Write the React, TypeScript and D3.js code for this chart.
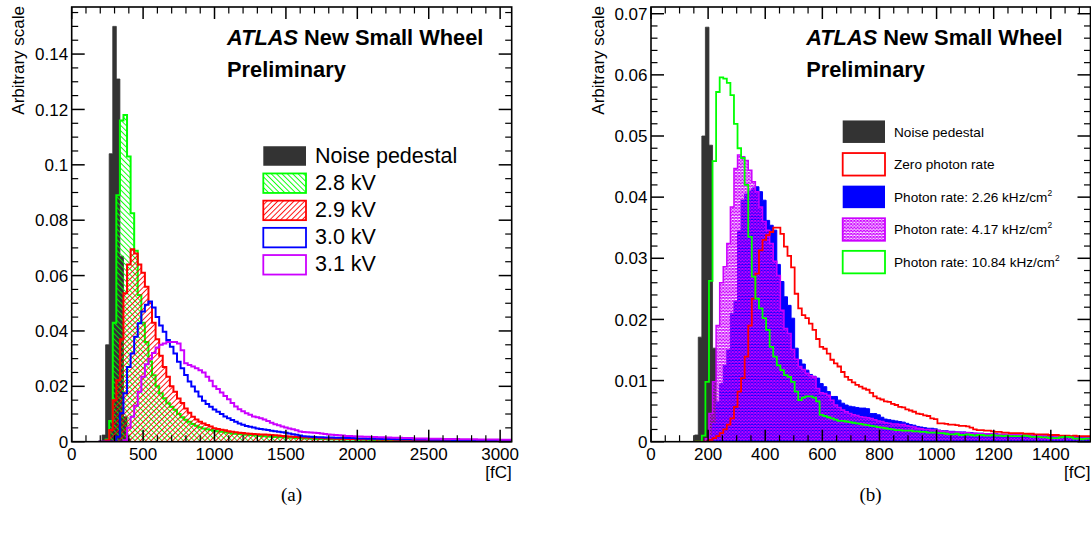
import React from 'react';
import * as d3 from 'd3';

// ---------- panel (a): 25 fC bins, first bin centred on 200 fC ----------
const binA = 25;
const firstCentreA = 200;

const noiseA = [0, 0.0024, 0.035, 0.104, 0.15, 0.131, 0.067, 0.009, 0.001];

const kv28 = [
  0, 0, 0.0008, 0.0075, 0.043, 0.089, 0.116, 0.118, 0.103, 0.0825,
  0.069, 0.053, 0.043, 0.036, 0.029, 0.024, 0.02, 0.0175, 0.0157, 0.0139,
  0.0126, 0.0115, 0.01, 0.0088, 0.0079, 0.0072, 0.0064, 0.0058, 0.0052, 0.0048,
  0.0045, 0.0042, 0.004, 0.0038, 0.0036, 0.0034, 0.0032, 0.003, 0.0029, 0.0028,
  0.0026, 0.0025, 0.0024, 0.0023, 0.0022, 0.0021, 0.002, 0.0019, 0.0018, 0.0017,
  0.0016, 0.0016, 0.0015, 0.0014, 0.0014, 0.0013, 0.0013, 0.0012, 0.0012, 0.0011,
  0.0011, 0.001, 0.001, 0.001, 0.0009, 0.0009, 0.0009, 0.0009, 0.0008, 0.0008,
  0.0008, 0.0008, 0.0007, 0.0007, 0.0007, 0.0007, 0.0006, 0.0006, 0.0006, 0.0006,
  0.0006, 0.0005, 0.0005, 0.0005, 0.0005, 0.0005, 0.0005, 0.0004, 0.0004, 0.0004,
  0.0004, 0.0004, 0.0004, 0.0004, 0.0004, 0.0003, 0.0003, 0.0003, 0.0003, 0.0003,
  0.0003, 0.0003, 0.0003, 0.0003, 0.0003, 0.0003, 0.0003, 0.0003, 0.0003, 0.0003,
  0.0003, 0.0003, 0.0002, 0.0002, 0.0002, 0.0002,
];

const kv29 = [
  0, 0, 0.0005, 0.0042, 0.015, 0.0222, 0.037, 0.0536, 0.064, 0.0695,
  0.068, 0.064, 0.061, 0.056, 0.05, 0.043, 0.037, 0.031, 0.027, 0.0235,
  0.02, 0.018, 0.0156, 0.014, 0.012, 0.0105, 0.009, 0.008, 0.0072, 0.0066,
  0.006, 0.0055, 0.0049, 0.0046, 0.0043, 0.0041, 0.0038, 0.0036, 0.0034, 0.0032,
  0.0031, 0.003, 0.0029, 0.0028, 0.0027, 0.0026, 0.0026, 0.0025, 0.0024, 0.0023,
  0.0022, 0.0021, 0.002, 0.0019, 0.0018, 0.0017, 0.0016, 0.0016, 0.0015, 0.0015,
  0.0014, 0.0014, 0.0013, 0.0013, 0.0012, 0.0012, 0.0012, 0.0011, 0.0011, 0.0011,
  0.001, 0.001, 0.001, 0.001, 0.0009, 0.0009, 0.0009, 0.0009, 0.0008, 0.0008,
  0.0008, 0.0008, 0.0008, 0.0007, 0.0007, 0.0007, 0.0007, 0.0007, 0.0006, 0.0006,
  0.0006, 0.0006, 0.0006, 0.0006, 0.0005, 0.0005, 0.0005, 0.0005, 0.0005, 0.0005,
  0.0005, 0.0005, 0.0004, 0.0004, 0.0004, 0.0004, 0.0004, 0.0004, 0.0004, 0.0004,
  0.0004, 0.0004, 0.0004, 0.0003, 0.0003, 0.0003,
];

const kv30 = [
  0, 0, 0, 0, 0, 0.0018, 0.0103, 0.0175, 0.027, 0.0319,
  0.0379, 0.0428, 0.047, 0.0495, 0.0506, 0.0485, 0.045, 0.042, 0.0397, 0.0367,
  0.0343, 0.0319, 0.0289, 0.0265, 0.0241, 0.0217, 0.0199, 0.0181, 0.0163, 0.0148,
  0.0136, 0.0126, 0.0116, 0.0108, 0.01, 0.0091, 0.0085, 0.0078, 0.0072, 0.0066,
  0.0061, 0.0057, 0.0054, 0.0051, 0.0048, 0.0046, 0.0044, 0.0042, 0.004, 0.0038,
  0.0036, 0.0034, 0.0032, 0.003, 0.0027, 0.0025, 0.0022, 0.002, 0.0019, 0.0018,
  0.0017, 0.0016, 0.0016, 0.0015, 0.0015, 0.0015, 0.0014, 0.0014, 0.0014, 0.0013,
  0.0013, 0.0013, 0.0012, 0.0012, 0.0012, 0.0011, 0.0011, 0.0011, 0.0011, 0.001,
  0.001, 0.001, 0.001, 0.0009, 0.0009, 0.0009, 0.0009, 0.0009, 0.0008, 0.0008,
  0.0008, 0.0008, 0.0008, 0.0007, 0.0007, 0.0007, 0.0007, 0.0007, 0.0007, 0.0006,
  0.0006, 0.0006, 0.0006, 0.0006, 0.0006, 0.0006, 0.0005, 0.0005, 0.0005, 0.0005,
  0.0005, 0.0005, 0.0005, 0.0005, 0.0004, 0.0004,
];

const kv31 = [
  0, 0, 0, 0, 0, 0, 0, 0.0005, 0.005, 0.009,
  0.013, 0.018, 0.0235, 0.028, 0.03, 0.032, 0.034, 0.035, 0.0355, 0.036,
  0.036, 0.036, 0.0355, 0.033, 0.0283, 0.0277, 0.0272, 0.0265, 0.0258, 0.025,
  0.0235, 0.022, 0.02, 0.019, 0.0178, 0.0165, 0.0153, 0.014, 0.0127, 0.0117,
  0.011, 0.0103, 0.0097, 0.0091, 0.0088, 0.0085, 0.008, 0.0075, 0.0068, 0.0063,
  0.0059, 0.0055, 0.0051, 0.0048, 0.0045, 0.0041, 0.0037, 0.0035, 0.0034, 0.0033,
  0.0032, 0.0031, 0.003, 0.0028, 0.0026, 0.0025, 0.0024, 0.0023, 0.0022, 0.0021,
  0.0021, 0.002, 0.0019, 0.0019, 0.0018, 0.0018, 0.0017, 0.0017, 0.0016, 0.0016,
  0.0015, 0.0015, 0.0014, 0.0014, 0.0014, 0.0013, 0.0013, 0.0013, 0.0012, 0.0012,
  0.0012, 0.0012, 0.0011, 0.0011, 0.0011, 0.0011, 0.001, 0.001, 0.001, 0.001,
  0.001, 0.0009, 0.0009, 0.0009, 0.0009, 0.0009, 0.0008, 0.0008, 0.0008, 0.0008,
  0.0008, 0.0008, 0.0007, 0.0007, 0.0007, 0.0007,
];

const xTicksA = [0, 500, 1000, 1500, 2000, 2500, 3000];
const yTicksA = [0, 0.02, 0.04, 0.06, 0.08, 0.1, 0.12, 0.14];
const yLabelsA = ['0', '0.02', '0.04', '0.06', '0.08', '0.1', '0.12', '0.14'];
const legendLabelsA = ['Noise pedestal', '2.8 kV', '2.9 kV', '3.0 kV', '3.1 kV'];

// ---------- panel (b): 12.5 fC bins, first low edge at 153 fC ----------
const binB = 12.5;
const firstEdgeB = 153;

const noiseB = [0.0011, 0.0171, 0.05, 0.0678, 0.0485, 0.0153, 0.001];

const zeroRate = [
  0, 0, 0, 0, 0.0003, 0.0006, 0.0009, 0.0014, 0.002, 0.0028,
  0.0038, 0.0057, 0.0082, 0.0104, 0.0139, 0.019, 0.0234, 0.0275, 0.0313, 0.033,
  0.0338, 0.0343, 0.035, 0.035, 0.034, 0.0319, 0.0304, 0.0285, 0.0242, 0.0218,
  0.0207, 0.0202, 0.0193, 0.0183, 0.0168, 0.0155, 0.0152, 0.0144, 0.0134, 0.0128,
  0.0123, 0.0114, 0.0106, 0.0101, 0.0097, 0.0093, 0.009, 0.0087, 0.0085, 0.008,
  0.0074, 0.0071, 0.0069, 0.0066, 0.0065, 0.0062, 0.006, 0.0057, 0.0056, 0.0053,
  0.0051, 0.0049, 0.0046, 0.0045, 0.0043, 0.0042, 0.0038, 0.0037, 0.003, 0.003,
  0.0029, 0.0028, 0.0028, 0.0027, 0.0026, 0.0026, 0.0025, 0.0023, 0.002, 0.0019,
  0.0019, 0.0018, 0.0018, 0.0017, 0.0016, 0.0016, 0.0015, 0.0015, 0.0014, 0.0014,
  0.0014, 0.0014, 0.0013, 0.0013, 0.0013, 0.0012, 0.0012, 0.0012, 0.0012, 0.0011,
  0.0011, 0.0011, 0.001, 0.001, 0.001, 0.0009, 0.001, 0.0009, 0.0009, 0.0009, 0.0009,
];

const rate226 = [
  0, 0, 0, 0, 0.001, 0.003, 0.0065, 0.0095, 0.0125, 0.015,
  0.021, 0.023, 0.0345, 0.0395, 0.0405, 0.041, 0.0415, 0.0417, 0.0409, 0.0395,
  0.0362, 0.0354, 0.0346, 0.029, 0.0262, 0.0237, 0.0223, 0.0202, 0.0153, 0.0134,
  0.0127, 0.0117, 0.011, 0.0107, 0.0104, 0.0095, 0.009, 0.0082, 0.0074, 0.0074,
  0.0068, 0.0063, 0.006, 0.0058, 0.0057, 0.0056, 0.0055, 0.0055, 0.0054, 0.0046,
  0.0046, 0.0044, 0.004, 0.0037, 0.0036, 0.0035, 0.0034, 0.0033, 0.0032, 0.003,
  0.0028, 0.0027, 0.0025, 0.0024, 0.0023, 0.0022, 0.0022, 0.0021, 0.0019, 0.0018,
  0.0018, 0.0017, 0.0017, 0.0016, 0.0016, 0.0016, 0.0015, 0.0015, 0.0014, 0.0014,
  0.0014, 0.0013, 0.0013, 0.0013, 0.0013, 0.0012, 0.0012, 0.0012, 0.0012, 0.0012,
  0.0011, 0.0011, 0.0011, 0.0011, 0.001, 0.001, 0.001, 0.001, 0.001, 0.001,
  0.0009, 0.0009, 0.0009, 0.0009, 0.0009, 0.0009, 0.0008, 0.0008, 0.0008, 0.0008, 0.0008,
];

const rate417 = [
  0, 0, 0, 0.0005, 0.0046, 0.0098, 0.019, 0.026, 0.0286, 0.0324,
  0.0384, 0.0447, 0.0469, 0.0466, 0.046, 0.0444, 0.0425, 0.0409, 0.0384, 0.036,
  0.0346, 0.0324, 0.0295, 0.0272, 0.0215, 0.0185, 0.0177, 0.0151, 0.0135, 0.0123,
  0.0118, 0.0112, 0.0108, 0.0106, 0.0087, 0.008, 0.0079, 0.0076, 0.0068, 0.006,
  0.0056, 0.0052, 0.0049, 0.0046, 0.0044, 0.0043, 0.0041, 0.004, 0.0039, 0.0038,
  0.0036, 0.0034, 0.0033, 0.0031, 0.003, 0.0029, 0.0029, 0.0028, 0.0028, 0.0026,
  0.0025, 0.0024, 0.0022, 0.0021, 0.002, 0.002, 0.0019, 0.0019, 0.0018, 0.0017,
  0.0017, 0.0016, 0.0016, 0.0016, 0.0015, 0.0015, 0.0015, 0.0014, 0.0014, 0.0013,
  0.0013, 0.0013, 0.0013, 0.0013, 0.0012, 0.0012, 0.0012, 0.0012, 0.0012, 0.0012,
  0.0012, 0.0011, 0.0011, 0.0011, 0.0011, 0.0011, 0.001, 0.001, 0.001, 0.001,
  0.001, 0.0009, 0.0009, 0.0009, 0.0009, 0.0008, 0.0008, 0.0008, 0.0008, 0.0008, 0.0008,
];

const rate1084 = [
  0, 0, 0.001, 0.0098, 0.0263, 0.0459, 0.0572, 0.0596, 0.0594, 0.0587,
  0.0567, 0.052, 0.048, 0.0464, 0.042, 0.0335, 0.027, 0.0234, 0.0218, 0.0202,
  0.0183, 0.0155, 0.0139, 0.0125, 0.0117, 0.0109, 0.0106, 0.0098, 0.0082, 0.0068,
  0.0072, 0.0074, 0.0074, 0.0072, 0.0066, 0.0044, 0.0042, 0.004, 0.0038, 0.0036,
  0.0034, 0.0034, 0.0033, 0.0032, 0.0031, 0.003, 0.0029, 0.0028, 0.0027, 0.0026,
  0.0025, 0.0024, 0.0023, 0.0022, 0.0021, 0.002, 0.0019, 0.0019, 0.0018, 0.0018,
  0.0018, 0.0017, 0.0017, 0.0016, 0.0016, 0.0015, 0.0015, 0.0015, 0.0014, 0.0014,
  0.0013, 0.0012, 0.0012, 0.0013, 0.0011, 0.0011, 0.0012, 0.0011, 0.001, 0.0011,
  0.0011, 0.001, 0.001, 0.0011, 0.001, 0.001, 0.0009, 0.001, 0.0009, 0.0009,
  0.0009, 0.0009, 0.001, 0.0009, 0.0008, 0.0008, 0.0008, 0.0007, 0.0007, 0.0006,
  0.0006, 0.0006, 0.0007, 0.0008, 0.0008, 0.0007, 0.0005, 0.0005, 0.0004, 0.0005, 0.0005,
];

const xTicksB = [0, 200, 400, 600, 800, 1000, 1200, 1400];
const yTicksB = [0, 0.01, 0.02, 0.03, 0.04, 0.05, 0.06, 0.07];
const yLabelsB = ['0', '0.01', '0.02', '0.03', '0.04', '0.05', '0.06', '0.07'];
const legendLabelsB = ['Noise pedestal', 'Zero photon rate', 'Photon rate: 2.26 kHz/cm', 'Photon rate: 4.17 kHz/cm', 'Photon rate: 10.84 kHz/cm'];

const FONT = '"Liberation Sans", Arial, Helvetica, sans-serif';
const GREY = '#333333';
const GREEN = '#00ff00';
const RED = '#ff0000';
const BLUE = '#0000ff';
const VIOLET = '#cc00ff';

type Series = { values: number[]; lo: number; width: number; fill: string; stroke: string; sw: number };

function histPath(s: Series, x: d3.ScaleLinear<number, number>, y: d3.ScaleLinear<number, number>, close: boolean) {
  const pts: [number, number][] = [[s.lo, 0]];
  s.values.forEach((v, i) => pts.push([s.lo + i * s.width, v]));
  pts.push([s.lo + s.values.length * s.width, 0]);
  const line = d3.line<[number, number]>().x(d => x(d[0])).y(d => y(d[1])).curve(d3.curveStepAfter);
  return (line(pts) || '') + (close ? 'Z' : '');
}

type LegendItem = { label: string; fill: string; stroke: string; sup?: boolean };

type PanelProps = {
  id: string;
  frame: { left: number; right: number; top: number; bottom: number };
  xMax: number;
  yMax: number;
  xTicks: number[];
  xMinorStep: number;
  xMinorMax: number;
  yTicks: number[];
  yLabels: string[];
  yMinorStep: number;
  series: Series[];
  legend: LegendItem[];
  legendBox: { x: number; y0: number; dy: number; w: number; h: number; fontSize: number; textDx: number; baseDy: number };
  ylabelX: number;
  caption: string;
  captionX: number;
};

function Panel(p: PanelProps) {
  const { frame } = p;
  const x = d3.scaleLinear().domain([0, p.xMax]).range([frame.left, frame.right]);
  const y = d3.scaleLinear().domain([0, p.yMax]).range([frame.bottom, frame.top]);
  const xMinor = d3.range(0, p.xMinorMax + 1e-9, p.xMinorStep).filter(v => !p.xTicks.includes(v));
  const yMinor = d3.range(0, p.yMax, p.yMinorStep).filter(v => !p.yTicks.some(t => Math.abs(t - v) < 1e-9));
  const clipId = `clip-${p.id}`;
  const lb = p.legendBox;

  return (
    <g>
      <clipPath id={clipId}>
        <rect x={frame.left} y={frame.top} width={frame.right - frame.left} height={frame.bottom - frame.top} />
      </clipPath>
      <g clipPath={`url(#${clipId})`}>
        {p.series.map((s, i) => (
          <g key={i}>
            {s.fill !== 'none' && <path d={histPath(s, x, y, true)} fill={s.fill} stroke="none" />}
            {s.stroke !== 'none' && (
              <path d={histPath(s, x, y, false)} fill="none" stroke={s.stroke} strokeWidth={s.sw} strokeLinejoin="miter" />
            )}
          </g>
        ))}
      </g>

      {/* frame and ticks on all four sides */}
      <rect x={frame.left} y={frame.top} width={frame.right - frame.left} height={frame.bottom - frame.top}
        fill="none" stroke="#000" strokeWidth={1.6} />
      {p.xTicks.map(v => (
        <g key={`xt${v}`} stroke="#000" strokeWidth={1.5}>
          <line x1={x(v)} x2={x(v)} y1={frame.bottom} y2={frame.bottom - 12} />
          <line x1={x(v)} x2={x(v)} y1={frame.top} y2={frame.top + 12} />
        </g>
      ))}
      {xMinor.map(v => (
        <g key={`xm${v}`} stroke="#000" strokeWidth={1.2}>
          <line x1={x(v)} x2={x(v)} y1={frame.bottom} y2={frame.bottom - 6.5} />
          <line x1={x(v)} x2={x(v)} y1={frame.top} y2={frame.top + 6.5} />
        </g>
      ))}
      {p.yTicks.map(v => (
        <g key={`yt${v}`} stroke="#000" strokeWidth={1.5}>
          <line x1={frame.left} x2={frame.left + 13} y1={y(v)} y2={y(v)} />
          <line x1={frame.right} x2={frame.right - 13} y1={y(v)} y2={y(v)} />
        </g>
      ))}
      {yMinor.map(v => (
        <g key={`ym${v}`} stroke="#000" strokeWidth={1.2}>
          <line x1={frame.left} x2={frame.left + 6.5} y1={y(v)} y2={y(v)} />
          <line x1={frame.right} x2={frame.right - 6.5} y1={y(v)} y2={y(v)} />
        </g>
      ))}

      {p.xTicks.map(v => (
        <text key={`xl${v}`} x={x(v)} y={459.5} textAnchor="middle" fontSize={17}>{v}</text>
      ))}
      {p.yTicks.map((v, i) => (
        <text key={`yl${v}`} x={frame.left - 3.5} y={y(v)} dy="0.36em" textAnchor="end" fontSize={17}>{p.yLabels[i]}</text>
      ))}
      <text x={frame.right} y={478} textAnchor="end" fontSize={17}>[fC]</text>
      <text transform={`translate(${p.ylabelX},6) rotate(-90)`} textAnchor="end" fontSize={17}>Arbitrary scale</text>

      <text x={x(0) + (frame.right - frame.left) * 0.353} y={45} fontSize={21.8} fontWeight="bold">
        <tspan fontStyle="italic">ATLAS</tspan>{' New Small Wheel'}
      </text>
      <text x={x(0) + (frame.right - frame.left) * 0.353} y={77} fontSize={21.8} fontWeight="bold">Preliminary</text>

      {p.legend.map((it, i) => {
        const cy = lb.y0 + i * lb.dy;
        return (
          <g key={`lg${i}`}>
            {it.fill !== 'none' && <rect x={lb.x} y={cy - lb.h / 2} width={lb.w} height={lb.h} fill={it.fill} />}
            {it.stroke !== 'none' && (
              <rect x={lb.x} y={cy - lb.h / 2} width={lb.w} height={lb.h} fill="none" stroke={it.stroke} strokeWidth={1.8} />
            )}
            <text x={lb.x + lb.w + lb.textDx} y={cy + lb.baseDy} fontSize={lb.fontSize}>
              {it.label}
              {it.sup && <tspan dy={-6} fontSize={lb.fontSize * 0.62}>2</tspan>}
            </text>
          </g>
        );
      })}

      <text x={p.captionX} y={501} textAnchor="middle" fontSize={19} fontFamily='"Liberation Serif", "Times New Roman", serif'>
        {p.caption}
      </text>
    </g>
  );
}

export default function App() {
  const seriesA: Series[] = [
    { values: noiseA, lo: firstCentreA - binA / 2, width: binA, fill: GREY, stroke: GREY, sw: 0.8 },
    { values: kv28, lo: firstCentreA - binA / 2, width: binA, fill: 'url(#hatchGreen)', stroke: GREEN, sw: 2 },
    { values: kv29, lo: firstCentreA - binA / 2, width: binA, fill: 'url(#hatchRed)', stroke: RED, sw: 2 },
    { values: kv30, lo: firstCentreA - binA / 2, width: binA, fill: 'none', stroke: BLUE, sw: 2 },
    { values: kv31, lo: firstCentreA - binA / 2, width: binA, fill: 'none', stroke: VIOLET, sw: 2 },
  ];
  const seriesB: Series[] = [
    { values: noiseB, lo: firstEdgeB, width: binB, fill: GREY, stroke: GREY, sw: 0.8 },
    { values: rate226, lo: firstEdgeB, width: binB, fill: BLUE, stroke: BLUE, sw: 1 },
    { values: rate417, lo: firstEdgeB, width: binB, fill: 'url(#crossViolet)', stroke: VIOLET, sw: 1.5 },
    { values: zeroRate, lo: firstEdgeB, width: binB, fill: 'none', stroke: RED, sw: 1.8 },
    { values: rate1084, lo: firstEdgeB, width: binB, fill: 'none', stroke: GREEN, sw: 1.8 },
  ];
  const legendA: LegendItem[] = [
    { label: legendLabelsA[0], fill: GREY, stroke: 'none' },
    { label: legendLabelsA[1], fill: 'url(#hatchGreen)', stroke: GREEN },
    { label: legendLabelsA[2], fill: 'url(#hatchRed)', stroke: RED },
    { label: legendLabelsA[3], fill: 'none', stroke: BLUE },
    { label: legendLabelsA[4], fill: 'none', stroke: VIOLET },
  ];
  const legendB: LegendItem[] = [
    { label: legendLabelsB[0], fill: GREY, stroke: 'none' },
    { label: legendLabelsB[1], fill: 'none', stroke: RED },
    { label: legendLabelsB[2], fill: BLUE, stroke: 'none', sup: true },
    { label: legendLabelsB[3], fill: 'url(#crossViolet)', stroke: VIOLET, sup: true },
    { label: legendLabelsB[4], fill: 'none', stroke: GREEN, sup: true },
  ];

  return (
    <div style={{ position: 'absolute', left: 0, top: 0 }}>
      <svg width={1091} height={538} style={{ display: 'block', background: '#fff' }} fontFamily={FONT}>
        <defs>
          <pattern id="hatchGreen" width={3.8} height={3.8} patternUnits="userSpaceOnUse" patternTransform="rotate(-45)">
            <line x1={0.5} y1={0} x2={0.5} y2={3.8} stroke={GREEN} strokeWidth={0.9} />
          </pattern>
          <pattern id="hatchRed" width={3.8} height={3.8} patternUnits="userSpaceOnUse" patternTransform="rotate(45)">
            <line x1={0.5} y1={0} x2={0.5} y2={3.8} stroke={RED} strokeWidth={0.9} />
          </pattern>
          <pattern id="crossViolet" width={3.2} height={3.2} patternUnits="userSpaceOnUse">
            <path d="M0,0L3.2,3.2M3.2,0L0,3.2" stroke={VIOLET} strokeWidth={1.1} />
          </pattern>
        </defs>

        <Panel
          id="a"
          frame={{ left: 71.7, right: 511.7, top: 7, bottom: 441.7 }}
          xMax={3081}
          yMax={0.157}
          xTicks={xTicksA}
          xMinorStep={100}
          xMinorMax={3000}
          yTicks={yTicksA}
          yLabels={yLabelsA}
          yMinorStep={0.005}
          series={seriesA}
          legend={legendA}
          legendBox={{ x: 263.3, y0: 156, dy: 27.2, w: 42.7, h: 19.5, fontSize: 21.5, textDx: 9, baseDy: 6.5 }}
          ylabelX={24}
          caption="(a)"
          captionX={291.5}
        />
        <Panel
          id="b"
          frame={{ left: 651, right: 1090.5, top: 7, bottom: 441.7 }}
          xMax={1539}
          yMax={0.0711}
          xTicks={xTicksB}
          xMinorStep={50}
          xMinorMax={1500}
          yTicks={yTicksB}
          yLabels={yLabelsB}
          yMinorStep={0.002}
          series={seriesB}
          legend={legendB}
          legendBox={{ x: 842.7, y0: 131.7, dy: 32.6, w: 42.3, h: 22.5, fontSize: 13.6, textDx: 9, baseDy: 4.8 }}
          ylabelX={603.5}
          caption="(b)"
          captionX={870.5}
        />
      </svg>
    </div>
  );
}
